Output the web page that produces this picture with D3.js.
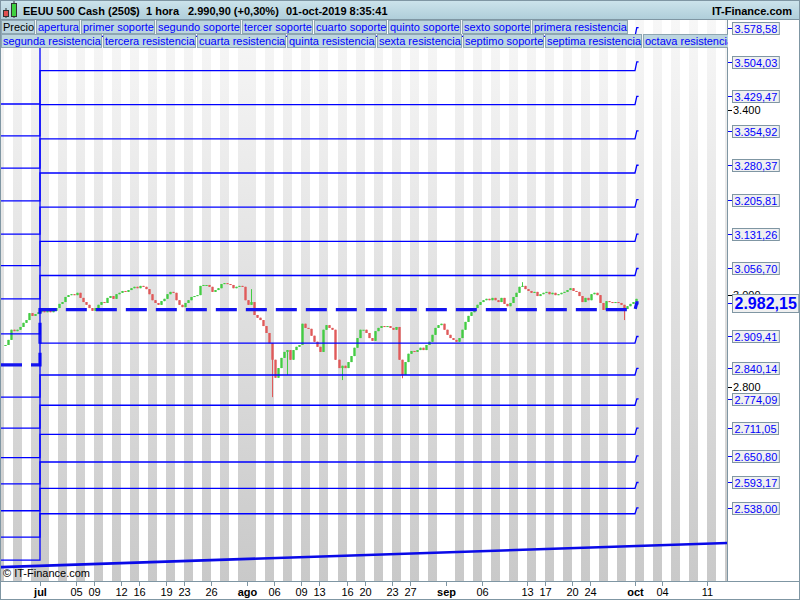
<!DOCTYPE html>
<html>
<head>
<meta charset="utf-8">
<script src="https://cdnjs.cloudflare.com/ajax/libs/d3/7.8.5/d3.min.js"></script>
<style>
body { margin: 0; background: #fff; }
svg { display: block; font-family: "Liberation Sans", Arial, sans-serif; }
</style>
</head>
<body>
<script>
// header texts
var headerTitle = 'EEUU 500 Cash (250$)';
var headerPeriod = '1 hora';
var headerQuote = '2.990,90 (+0,30%)';
var headerTime = '01-oct-2019 8:35:41';
var headerSite = 'IT-Finance.com';

// legend entries (first one is the price itself)
var legendItems = ['Precio', 'apertura', 'primer soporte', 'segundo soporte', 'tercer soporte',
    'cuarto soporte', 'quinto soporte', 'sexto soporte', 'primera resistencia',
    'segunda resistencia', 'tercera resistencia', 'cuarta resistencia', 'quinta resistencia',
    'sexta resistencia', 'septimo soporte', 'septima resistencia', 'octava resistencia'];

// pivot levels per quarter: [apertura, S1..S7, R1..R8]
var levelsQ2 = [2848, 2778, 2711, 2647, 2590, 2532, 2475, 2425,
    2915, 2991, 3063, 3131, 3203, 3274, 3344, 3413];
var levelsQ3 = [2967.5, 2895, 2826, 2760.5, 2697.5, 2637.5, 2580.5, 2525.5,
    3041.5, 3115.5, 3189.5, 3263.5, 3337.5, 3411.5, 3485.5, 3559.5];
var levelsQ4 = [2982.15, 2909.41, 2840.14, 2774.09, 2711.05, 2650.80, 2593.17, 2538.00,
    3056.70, 3131.26, 3205.81, 3280.37, 3354.92, 3429.47, 3504.03, 3578.58];

// round price ticks on the right scale
var priceTicks = [2800, 3000, 3400];

// slanted line near the bottom
var trendDates = ['2019-06-24', '2019-10-16'];
var trendPrices = [2409.5, 2462.5];

// labelled days on the time axis
var axisDays = ['2019-07-01', '2019-07-05', '2019-07-09', '2019-07-12', '2019-07-16', '2019-07-19',
    '2019-07-23', '2019-07-26', '2019-08-01', '2019-08-06', '2019-08-09', '2019-08-13',
    '2019-08-16', '2019-08-20', '2019-08-23', '2019-08-27', '2019-09-02', '2019-09-06',
    '2019-09-13', '2019-09-17', '2019-09-20', '2019-09-24', '2019-10-01', '2019-10-04', '2019-10-11'];

// closes, three candles per trading day, from 25-jun
var closesJun = [2891, 2902, 2924, 2921, 2924, 2930, 2939, 2945, 2960, 2954, 2958, 2962];
var closesJul = [2969, 2962, 2967, 2962, 2965, 2971, 2980, 2984, 2995, 2999, 3001, 2999, 3004,
    2993, 2984, 2978, 2971, 2965, 2971, 2978, 2984, 2982, 2993, 2997, 2991, 3001, 3004, 3008,
    3006, 3010, 3014, 3017, 3014, 3019, 3017, 3012, 3001, 2988, 2982, 2978, 2986, 2991, 3001,
    3006, 3004, 2988, 2978, 2973, 2982, 2988, 2995, 2997, 2999, 3019, 3021, 3021, 3017, 3006,
    3010, 3014, 3023, 3025, 3023, 3021, 3014, 3017, 3019, 3017, 2988];
var closesAug = [2978, 2984, 2956, 2950, 2945, 2932, 2917, 2895, 2859, 2820, 2841, 2863, 2876,
    2880, 2859, 2880, 2887, 2891, 2937, 2928, 2926, 2911, 2898, 2887, 2876, 2924, 2934, 2928,
    2924, 2859, 2841, 2846, 2841, 2854, 2867, 2885, 2906, 2924, 2924, 2917, 2906, 2900, 2921,
    2928, 2932, 2930, 2932, 2928, 2924, 2930, 2859, 2826, 2854, 2872, 2878, 2876, 2880, 2885,
    2880, 2891, 2898, 2913, 2928, 2934, 2937, 2924];
var closesSep = [2913, 2906, 2902, 2898, 2906, 2924, 2941, 2954, 2962, 2971, 2978, 2984, 2988,
    2991, 2988, 2993, 2988, 2984, 2993, 2980, 2975, 2982, 2995, 3004, 3017, 3019, 3012, 3008,
    3004, 3006, 2997, 3001, 3004, 3006, 3001, 3004, 2999, 3001, 3004, 3006, 3010, 3014, 3008,
    3006, 2997, 2984, 2993, 2988, 3001, 3004, 2999, 2982, 2967, 2986, 2984, 2982, 2984, 2982,
    2978, 2969, 2975, 2980, 2984];
var closesOct = [2990.9];

// notable wick extremes: [day, third of the day, price]
var wickLows = [['2019-08-05', 2, 2778], ['2019-08-07', 1, 2826], ['2019-08-15', 1, 2815],
    ['2019-08-26', 0, 2819], ['2019-09-27', 2, 2945]];
var wickHighs = [['2019-08-01', 1, 3012], ['2019-09-12', 1, 3027]];

var width = 800, height = 600;
var plot = {left: 1, right: 727, top: 20, bottom: 581};
var frameColor = '#7f96a3';
var blue = '#0000ff';

var es = d3.formatLocale({decimal: ',', thousands: '.', grouping: [3], currency: ['', ' €']});
var fmtLevel = es.format(',.2f');
var fmtTick = es.format(',d');
var monthNames = ['ene', 'feb', 'mar', 'abr', 'may', 'jun', 'jul', 'ago', 'sep', 'oct', 'nov', 'dic'];
var parseDay = d3.timeParse('%Y-%m-%d');

var svg = d3.select('body').append('svg').attr('width', width).attr('height', height);
var defs = svg.append('defs');

var stripeGrad = defs.append('linearGradient').attr('id', 'stripeGrad')
    .attr('gradientUnits', 'userSpaceOnUse')
    .attr('x1', 0).attr('y1', plot.top).attr('x2', 0).attr('y2', plot.bottom);
stripeGrad.append('stop').attr('offset', 0).attr('stop-color', '#f7f7f7');
stripeGrad.append('stop').attr('offset', 1).attr('stop-color', '#c9c9c9');

var headGrad = defs.append('linearGradient').attr('id', 'headGrad').attr('x1', 0).attr('y1', 0).attr('x2', 0).attr('y2', 1);
headGrad.append('stop').attr('offset', 0).attr('stop-color', '#cde4ec');
headGrad.append('stop').attr('offset', 1).attr('stop-color', '#aecdd9');

defs.append('clipPath').attr('id', 'plotClip').append('rect')
    .attr('x', plot.left).attr('y', plot.top)
    .attr('width', plot.right - plot.left).attr('height', plot.bottom - plot.top);

// trading days (weekdays) and their index relative to 1-jul
var tradingDays = d3.timeDay.range(new Date(2019, 5, 20), new Date(2019, 9, 22))
    .filter(function (d) { return d.getDay() % 6 !== 0; });
var jul1 = tradingDays.findIndex(function (d) { return d.getMonth() === 6 && d.getDate() === 1; });
function dayIndex(d) {
    return tradingDays.findIndex(function (e) { return +e === +d; }) - jul1;
}

var x = d3.scaleLinear().domain([0, dayIndex(new Date(2019, 9, 1))]).range([40, 635]);
var y = d3.scaleLinear().domain([2800, 3400]).range([387, 110]);

// background
svg.append('rect').attr('width', width).attr('height', height).attr('fill', '#fff');

var plotG = svg.append('g').attr('clip-path', 'url(#plotClip)');

// day stripes
plotG.selectAll('rect.stripe')
    .data(tradingDays.filter(function (d) {
        return (d.getDate() + (d.getMonth() === 5 ? 1 : 0)) % 2 === 1;
    }))
    .enter().append('rect')
    .attr('class', 'stripe')
    .attr('x', function (d) { return Math.round(x(dayIndex(d))); })
    .attr('width', function (d) { return Math.round(x(dayIndex(d) + 1)) - Math.round(x(dayIndex(d))); })
    .attr('y', plot.top)
    .attr('height', plot.bottom - plot.top)
    .attr('fill', 'url(#stripeGrad)');

// candles
var startDay = dayIndex(new Date(2019, 5, 25));
var closes = closesJun.concat(closesJul, closesAug, closesSep, closesOct);
var candles = closes.map(function (c, k) {
    var o = k ? closes[k - 1] : c;
    return {t: startDay + k / 3, open: o, close: c, high: Math.max(o, c), low: Math.min(o, c)};
});
function candleAt(w) {
    return candles[Math.round((dayIndex(parseDay(w[0])) + w[1] / 3 - startDay) * 3)];
}
wickLows.forEach(function (w) { candleAt(w).low = w[2]; });
wickHighs.forEach(function (w) { candleAt(w).high = w[2]; });

var upColor = '#44cc44', downColor = '#e05a5a';
var candleG = plotG.selectAll('g.candle')
    .data(candles)
    .enter().append('g')
    .attr('class', 'candle');
candleG.append('line')
    .attr('x1', function (d) { return Math.round(x(d.t)) + 1.5; })
    .attr('x2', function (d) { return Math.round(x(d.t)) + 1.5; })
    .attr('y1', function (d) { return y(d.high); })
    .attr('y2', function (d) { return y(d.low); })
    .attr('stroke', function (d) { return d.close >= d.open ? upColor : downColor; });
candleG.append('rect')
    .attr('x', function (d) { return Math.round(x(d.t)) + 0.3; })
    .attr('width', 2.4)
    .attr('y', function (d) { return y(Math.max(d.open, d.close)); })
    .attr('height', function (d) { return Math.max(1, Math.abs(y(d.open) - y(d.close))); })
    .attr('fill', function (d) { return d.close >= d.open ? upColor : downColor; });

// pivot levels
var lastT = candles[candles.length - 1].t;
var oct1 = dayIndex(new Date(2019, 9, 1));
var leftT = x.invert(plot.left);
var levelLine = d3.line()
    .x(function (d) { return x(d[0]); })
    .y(function (d) { return y(d[1]); });

levelsQ2.forEach(function (v, j) {
    var pts = [[leftT, v], [0, v], [0, levelsQ3[j]], [oct1, levelsQ3[j]],
        [oct1 + 0.2, levelsQ4[j]], [lastT + 0.4, levelsQ4[j]]];
    var path = plotG.append('path')
        .attr('d', levelLine(pts))
        .attr('fill', 'none');
    if (j === 0) {
        path.attr('stroke', '#1414f0').attr('stroke-width', 3.2).attr('stroke-dasharray', '21,9');
    } else {
        path.attr('stroke', blue).attr('stroke-width', 1.3);
    }
});

// bottom slanted line
plotG.append('path')
    .attr('d', levelLine(trendDates.map(function (d, i) {
        return [dayIndex(parseDay(d)), trendPrices[i]];
    })))
    .attr('fill', 'none')
    .attr('stroke', '#0a0ae8')
    .attr('stroke-width', 2.6);

// copyright
svg.append('text').attr('x', 3).attr('y', 577)
    .attr('font-size', 11).attr('fill', '#000')
    .text('\u00a9 IT-Finance.com');

// right scale panel
svg.append('rect').attr('x', plot.right).attr('y', plot.top)
    .attr('width', width - plot.right).attr('height', plot.bottom - plot.top).attr('fill', '#fff');

var rightG = svg.append('g');
priceTicks.forEach(function (p) {
    rightG.append('line').attr('x1', plot.right + 1).attr('x2', plot.right + 5)
        .attr('y1', Math.round(y(p)) + 0.5).attr('y2', Math.round(y(p)) + 0.5)
        .attr('stroke', '#000');
    rightG.append('text').attr('x', plot.right + 6).attr('y', y(p) + 4)
        .attr('font-size', 11).attr('fill', '#000').text(fmtTick(p));
});

levelsQ4.forEach(function (v, j) {
    var yc = Math.round(y(v));
    var big = j === 0;
    rightG.append('line').attr('x1', plot.right + 1).attr('x2', plot.right + 5)
        .attr('y1', yc + 0.5).attr('y2', yc + 0.5).attr('stroke', blue);
    var box = rightG.append('rect');
    var t = rightG.append('text')
        .attr('x', plot.right + 7.5)
        .attr('y', yc + (big ? 6 : 4.5))
        .attr('font-size', big ? 16 : 11)
        .attr('font-weight', big ? 'bold' : 'normal')
        .attr('fill', blue)
        .text(fmtLevel(v));
    var tw = t.node().getComputedTextLength();
    var bh = big ? 18 : 12;
    box.attr('x', plot.right + 5.5).attr('y', yc - bh / 2 + 0.5)
        .attr('width', tw + 4).attr('height', bh)
        .attr('fill', '#f0f0f0').attr('stroke', frameColor);
});

// time axis
var axisG = svg.append('g');
axisDays.forEach(function (s) {
    var d = parseDay(s);
    var xi = Math.round(x(dayIndex(d))) + 0.5;
    var isMonth = d.getDate() === 1 || (d.getMonth() === 8 && d.getDate() === 2);
    axisG.append('line').attr('x1', xi).attr('x2', xi)
        .attr('y1', plot.bottom).attr('y2', plot.bottom + 5).attr('stroke', frameColor);
    axisG.append('text').attr('x', xi).attr('y', 596)
        .attr('text-anchor', 'middle')
        .attr('font-size', 11)
        .attr('font-weight', isMonth ? 'bold' : 'normal')
        .attr('fill', '#000')
        .text(isMonth ? monthNames[d.getMonth()] : d3.timeFormat('%d')(d));
});

// plot borders
svg.append('line').attr('x1', plot.right + 0.5).attr('x2', plot.right + 0.5)
    .attr('y1', plot.top).attr('y2', plot.bottom).attr('stroke', frameColor);
svg.append('line').attr('x1', 0).attr('x2', width)
    .attr('y1', plot.bottom + 0.5).attr('y2', plot.bottom + 0.5).attr('stroke', frameColor);

// legend boxes, clipped at the price scale
defs.append('clipPath').attr('id', 'legendClip').append('rect')
    .attr('x', 0).attr('y', plot.top).attr('width', plot.right + 1).attr('height', 30);
var legendG = svg.append('g').attr('clip-path', 'url(#legendClip)');
var lx = 1, row = 0;
legendItems.forEach(function (name, i) {
    var rowY = plot.top + row * 14;
    var g = legendG.append('g');
    var rect = g.append('rect');
    var t = g.append('text').attr('font-size', 11)
        .attr('fill', i === 0 ? '#000' : blue).text(name);
    var tw = t.node().getComputedTextLength();
    var bw = Math.round(tw + 3);
    if (row === 0 && lx + bw > 650) {
        row = 1; lx = 1; rowY = plot.top + 14;
    }
    rect.attr('x', lx + 0.5).attr('y', rowY + 0.5).attr('width', bw - 1).attr('height', 13)
        .attr('fill', '#bcd5df').attr('stroke', '#8ea6b2');
    t.attr('x', lx + 2).attr('y', rowY + 11);
    lx += bw + 1;
});

// header
svg.append('rect').attr('width', width).attr('height', plot.top).attr('fill', 'url(#headGrad)');
svg.append('line').attr('x1', 0).attr('x2', width).attr('y1', plot.top - 0.5).attr('y2', plot.top - 0.5)
    .attr('stroke', frameColor);
var icon = svg.append('g');
icon.append('line').attr('x1', 6).attr('x2', 6).attr('y1', 8).attr('y2', 18).attr('stroke', '#333');
icon.append('rect').attr('x', 3.5).attr('y', 10.5).attr('width', 5).attr('height', 6)
    .attr('fill', '#e05050').attr('stroke', '#333');
icon.append('line').attr('x1', 14).attr('x2', 14).attr('y1', 1).attr('y2', 18).attr('stroke', '#333');
icon.append('rect').attr('x', 11.5).attr('y', 3.5).attr('width', 5).attr('height', 13)
    .attr('fill', '#40d040').attr('stroke', '#333');

[[headerTitle, 23], [headerPeriod, 146], [headerQuote, 188], [headerTime, 286]].forEach(function (h) {
    svg.append('text').attr('x', h[1]).attr('y', 15)
        .attr('font-size', 11).attr('font-weight', 'bold').attr('fill', '#000').text(h[0]);
});
svg.append('text').attr('x', 792).attr('y', 15).attr('text-anchor', 'end')
    .attr('font-size', 11).attr('font-weight', 'bold').attr('fill', '#000').text(headerSite);

// outer frame
svg.append('rect').attr('x', 0.5).attr('y', 0.5).attr('width', width - 1).attr('height', height - 1)
    .attr('fill', 'none').attr('stroke', frameColor);
</script>
</body>
</html>
